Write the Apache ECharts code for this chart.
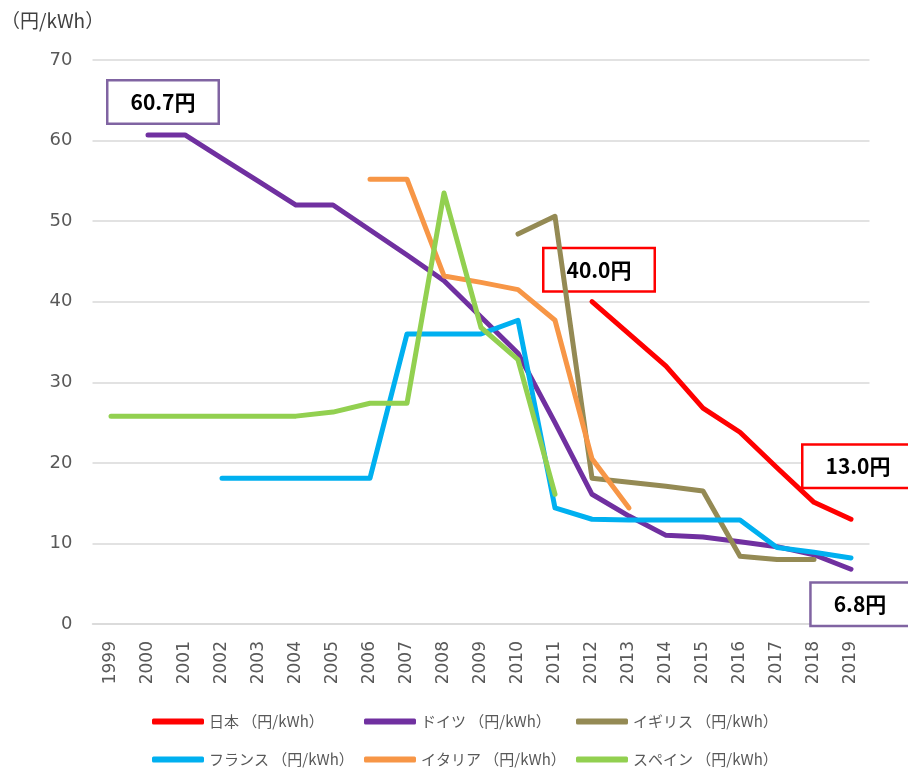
<!DOCTYPE html>
<html>
<head>
<meta charset="utf-8">
<script src="https://cdn.jsdelivr.net/npm/echarts@6/dist/echarts.min.js"></script>
<style>
html,body{margin:0;padding:0;background:#fff;}
#main{width:908px;height:768px;}
</style>
</head>
<body>
<div id="main"></div>
<script>
// ---- data ----
var years = ['1999','2000','2001','2002','2003','2004','2005','2006','2007','2008','2009','2010','2011','2012','2013','2014','2015','2016','2017','2018','2019'];
var japan   = [null,null,null,null,null,null,null,null,null,null,null,null,null,40.0,36.0,32.0,26.8,23.8,19.4,15.1,13.0];
var germany = [null,60.7,60.7,57.8,54.9,52.0,52.0,48.9,45.8,42.6,38.1,33.6,25.0,16.1,13.4,11.0,10.8,10.2,9.6,8.6,6.8];
var uk      = [null,null,null,null,null,null,null,null,null,null,null,48.4,50.6,18.1,17.6,17.1,16.5,8.4,8.0,8.0,null];
var france  = [null,null,null,18.1,18.1,18.1,18.1,18.1,36.0,36.0,36.0,37.7,14.4,13.0,12.9,12.9,12.9,12.9,9.5,8.9,8.2];
var italy   = [null,null,null,null,null,null,null,55.2,55.2,43.2,42.4,41.5,37.7,20.5,14.4,null,null,null,null,null,null];
var spain   = [25.8,25.8,25.8,25.8,25.8,25.8,26.3,27.4,27.4,53.5,36.8,32.8,16.1,null,null,null,null,null,null,null,null];
var seriesNames = ['日本 （円/kWh）','ドイツ （円/kWh）','イギリス （円/kWh）','フランス （円/kWh）','イタリア （円/kWh）','スペイン （円/kWh）'];
var yTicks = [0,10,20,30,40,50,60,70];
var unitLabel = '（円/kWh）';
// callouts: [series index, year, text]
var callouts = [[1,'2000','60.7円'],[0,'2012','40.0円'],[0,'2019','13.0円'],[1,'2019','6.8円']];

// ---- styling ----
var FONT = '"Noto Sans CJK JP","Noto Sans",sans-serif';
var NUMFONT = '"DejaVu Sans","Noto Sans CJK JP",sans-serif';
var colors = ['#ff0000','#7030a0','#948a54','#00b0f0','#f79646','#92d050'];
var boxBorder = ['#ff0000','#8064a2'];
var calloutOffsets = {'1-2000':[15,-33],'0-2012':[7,-32],'0-2019':[7,-53],'1-2019':[9,35]};
var legendPos = [[152,714],[364,714],[576,714],[152,752],[364,752],[576,752]];

var allData = [japan,germany,uk,france,italy,spain];

function buildData(si){
  return allData[si].map(function(v,i){
    var item = {value: v};
    callouts.forEach(function(c){
      if(c[0]===si && c[1]===years[i]){
        item.label = {
          show:true, position:'inside', offset: calloutOffsets[si+'-'+c[1]],
          formatter: c[2], fontFamily: FONT, fontSize:21, fontWeight:'bold', color:'#000',
          backgroundColor:'#fff', borderColor: boxBorder[si===0?0:1], borderWidth:2.5,
          padding:[10,22]
        };
      }
    });
    return item;
  });
}

var series = seriesNames.map(function(n,si){
  return {
    name:n, type:'line', data: buildData(si),
    symbol:'circle', symbolSize:0, showSymbol:true, showAllSymbol:true,
    connectNulls:false,
    lineStyle:{width:5, color:colors[si], cap:'round', join:'round'},
    itemStyle:{color:colors[si]},
    label:{show:false},
    emphasis:{disabled:true},
    z: 2+si
  };
});

var legends = seriesNames.map(function(n,i){
  return {
    data:[{name:n, icon:'roundRect'}], left:legendPos[i][0], top:legendPos[i][1],
    padding:0, itemWidth:52, itemHeight:6, itemGap:0,
    textStyle:{fontFamily:FONT, fontSize:15, color:'#595959'},
    selectedMode:false
  };
});

var chart = echarts.init(document.getElementById('main'));
chart.setOption({
  animation:false,
  color: colors,
  textStyle:{fontFamily:FONT},
  title:{text:unitLabel, left:-4, top:6, textStyle:{fontFamily:FONT, fontSize:19, fontWeight:'normal', color:'#404040'}},
  legend: legends,
  grid:{left:92.5, right:38.5, top:60, bottom:144, containLabel:false},
  xAxis:{
    type:'category', data:years, boundaryGap:true,
    axisLine:{lineStyle:{color:'#d9d9d9', width:1.5}},
    axisTick:{show:false},
    axisLabel:{rotate:90, fontFamily:NUMFONT, fontSize:17, color:'#595959', margin:17, interval:0}
  },
  yAxis:{
    type:'value', min:yTicks[0], max:yTicks[yTicks.length-1], interval:10,
    axisLine:{show:false}, axisTick:{show:false},
    splitLine:{lineStyle:{color:'#d9d9d9', width:1.5}},
    axisLabel:{fontFamily:NUMFONT, fontSize:18, color:'#595959', margin:20}
  },
  series: series
});
</script>
</body>
</html>
